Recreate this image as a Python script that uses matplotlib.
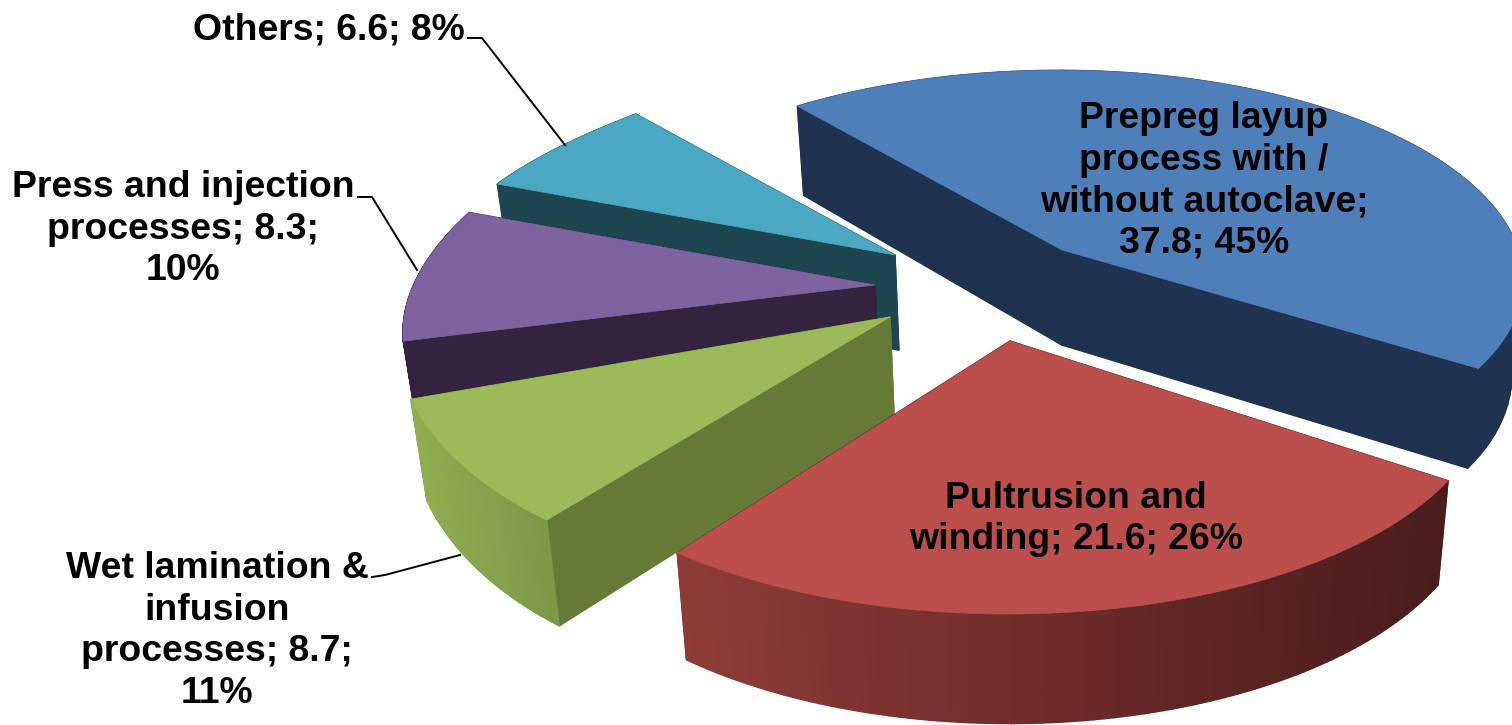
import numpy as np
import matplotlib
matplotlib.use('Agg')
import matplotlib.pyplot as plt
from matplotlib.collections import PolyCollection
from matplotlib.colors import to_rgb

categories = ['Prepreg layup\nprocess with /\nwithout autoclave;', 'Pultrusion and\nwinding;',
              'Wet lamination &\ninfusion\nprocesses;', 'Press and injection\nprocesses;', 'Others;']
values = [37.8, 21.6, 8.7, 8.3, 6.6]
percents = [45, 26, 11, 10, 8]
label_texts = ['Prepreg layup\nprocess with /\nwithout autoclave;\n37.8; 45%',
               'Pultrusion and\nwinding; 21.6; 26%',
               'Wet lamination &\ninfusion\nprocesses; 8.7;\n11%',
               'Press and injection\nprocesses; 8.3;\n10%',
               'Others; 6.6; 8%']

# look of the slices, all in pixels of the 1512x725 picture
top_colors = ['#4F7FBB', '#BC4F4C', '#9BBA59', '#7E63A0', '#4AA8C3']
side_colors = ['#1F3350', '#4A1C1B', '#667A37', '#33233F', '#1E4650']
rim_colors = [('#1F3350', '#1F3350'), ('#4A1C1B', '#8F3C38'), ('#7C9848', '#8FAE4F'),
              ('#33233F', '#33233F'), ('#1E4650', '#1E4650')]
apexes = [(1062, 250), (1010, 341), (890, 317), (875, 285), (895, 255)]
scales = [(1.0, 0.905), (0.975, 0.98), (0.97, 0.985), (0.96, 0.98), (0.96, 0.98)]
nudges = [(0, 2), (-1, 2), (0, 6), (0, 0), (0, 0)]
label_pos = [(1204, 181), (1076, 519), (217, 631), (183, 229), (329, 30)]
leaders = [None, None, [(372, 577), (385, 575), (460, 555)],
           [(358, 197), (372, 197), (417, 270)], [(468, 38), (482, 38), (565, 145)]]
START_ANGLE = 130
RX, RY, PERSP = 480, 219, 0.217


def rim_xy(apex, t_deg, scale):
    t = np.radians(t_deg)
    d = 1 + PERSP * np.sin(t)
    return apex[0] + scale * RX * np.cos(t) / d, apex[1] - scale * RY * np.sin(t) / d


def extrude(x, y):
    # bottom face is a bit pulled in towards the middle
    x = np.asarray(x, dtype=float)
    y = np.asarray(y, dtype=float)
    return x - 0.025 * (x - 1050), y + 85 + 0.04 * y


def draw_slice(ax, apex, t0, t1, sc, top, side, rim):
    ts = np.linspace(t0, t1, 90)
    ss = sc[0] + (sc[1] - sc[0]) * np.linspace(0, 1, 90) ** 3
    x, y = rim_xy(apex, ts, ss)
    xb, yb = extrude(x, y)
    ax_, ay_ = extrude(apex[0], apex[1])

    # both cut faces
    for i in (0, -1):
        ax.fill([x[i], apex[0], ax_, xb[i]], [y[i], apex[1], ay_, yb[i]],
                color=side, lw=1, zorder=ax.zcount)
        ax.zcount += 1

    # outer wall in thin strips, colour goes with x
    quads, cols = [], []
    lo = np.array(to_rgb(rim[1]))
    hi = np.array(to_rgb(rim[0]))
    for i in range(len(x) - 1):
        quads.append([(x[i], y[i]), (x[i + 1], y[i + 1]), (xb[i + 1], yb[i + 1]), (xb[i], yb[i])])
        f = np.clip((x[i] - x.min()) / (x.max() - x.min()), 0, 1)
        cols.append(lo + (hi - lo) * f)
    ax.add_collection(PolyCollection(quads, facecolors=cols, edgecolors=cols, linewidths=1, zorder=ax.zcount))
    ax.zcount += 1

    ax.fill(np.r_[apex[0], x], np.r_[apex[1], y], color=top, lw=0.5, zorder=ax.zcount)
    ax.zcount += 1


plt.rcParams['font.family'] = ['Liberation Sans', 'DejaVu Sans']

fig = plt.figure(figsize=(15.12, 7.25), dpi=100)
ax = fig.add_axes([0, 0, 1, 1])
ax.set_xlim(0, 1512)
ax.set_ylim(725, 0)
ax.axis('off')
ax.zcount = 1

angle_steps = np.array(values) / sum(values) * 360
starts = START_ANGLE - np.r_[0, np.cumsum(angle_steps)[:-1]]
ends = starts - angle_steps

# back slices first
for i in [4, 3, 2, 0, 1]:
    draw_slice(ax, apexes[i], starts[i] + nudges[i][0], ends[i] + nudges[i][1], scales[i],
               top_colors[i], side_colors[i], rim_colors[i])

for pts in leaders:
    if pts is not None:
        ax.plot([p[0] for p in pts], [p[1] for p in pts], color='black', lw=1.4, zorder=200)

for txt, pos in zip(label_texts, label_pos):
    ax.text(pos[0], pos[1], txt, ha='center', va='center', ma='center', fontsize=26.9,
            fontweight='bold', color='black', linespacing=1.235, zorder=300)

fig.savefig('out.png', dpi=100, facecolor='white')
